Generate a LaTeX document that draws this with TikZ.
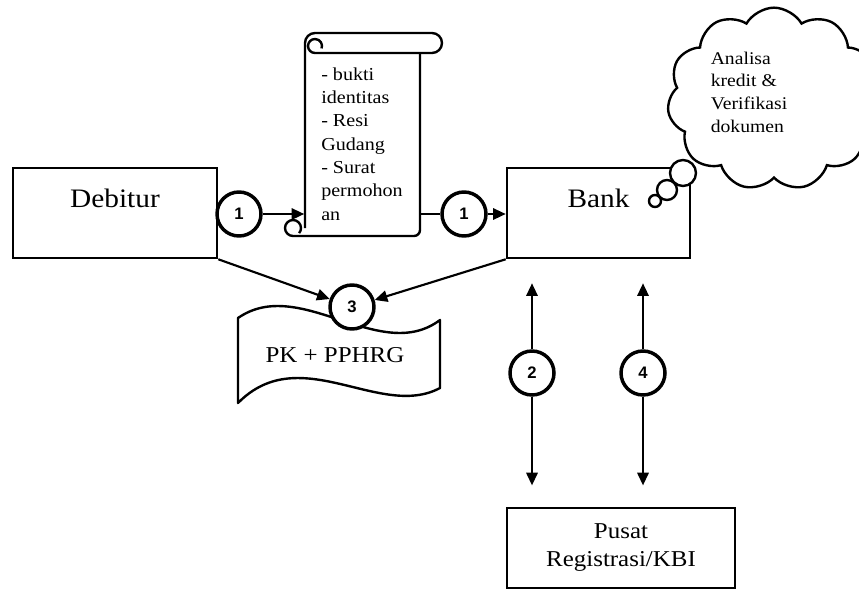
\documentclass[tikz,border=0pt]{standalone}
\usepackage{fontspec}
\setmainfont{Liberation Serif}[FakeStretch=1.1]
\setsansfont{Liberation Sans}
\usetikzlibrary{arrows.meta, positioning, shapes.symbols}
\tikzset{box/.style={rectangle,draw,line width=1.9pt,fill=white,inner sep=0pt},num/.style={circle,draw,line width=2.6pt,fill=white,minimum size=33pt,inner sep=0pt,font=\sffamily\bfseries\fontsize{12.5}{14}\selectfont},line/.style={line width=1.6pt},arrow/.style={line width=1.6pt,-{Triangle[length=9.5pt,width=8.5pt]}},outline/.style={line width=1.8pt,line join=round}}

\begin{document}
\begin{tikzpicture}[x=0.75pt,y=-0.75pt]
\useasboundingbox (0,0) rectangle (859,600);
% main boxes
\node[box, minimum width=153pt, minimum height=67.5pt, text height=14pt, text depth=23pt, font=\fontsize{20}{24}\selectfont] (debitur) at (115,213) {Debitur};
\node[box, minimum width=137.25pt, minimum height=67.5pt, text height=14pt, text depth=23pt, font=\fontsize{20}{24}\selectfont] (bank) at (598.5,213) {Bank};
\node[box, minimum width=171pt, minimum height=60pt, align=center, font=\fontsize{17}{21}\selectfont] (pusat) at (621,548) {Pusat\\Registrasi/KBI};
% scroll with documents
\node[inner sep=0pt, minimum width=86.25pt, minimum height=137pt, align=left, font=\fontsize{13.7}{17.5}\selectfont] (scroll) at (362,144) {- bukti\\identitas\\- Resi\\Gudang\\- Surat\\permohon\\an};
\draw[outline] (305,228) -- (305,43) arc[start angle=180, end angle=270, radius=10] -- (432,33) arc[start angle=270, end angle=450, radius=10] -- (315,53) arc[start angle=90, end angle=380, radius=7];
\draw[outline] (420,53) -- (420,230) arc[start angle=0, end angle=90, radius=6] -- (293,236) arc[start angle=90, end angle=400, radius=8];
% PK + PPHRG document
\draw[outline] (238,318) .. controls (300,275) and (380,365) .. (440,320) -- (440,388) .. controls (380,420) and (300,340) .. (238,403) -- cycle;
\node[font=\fontsize{17}{21}\selectfont] (pk) at (335,355) {PK + PPHRG};
% thought cloud
\node[cloud, draw, line width=1.8pt, fill=white, cloud puffs=11, cloud puff arc=120, minimum width=160pt, minimum height=137pt] (thought) at (774,99) {};
\node[align=left, font=\fontsize{13.4}{17}\selectfont] (analisa) at (749,92) {Analisa\\kredit \&\\Verifikasi\\dokumen};
\draw[outline, fill=white] (683,173) circle[radius=13];
\draw[outline, fill=white] (667,190) circle[radius=10];
\draw[outline, fill=white] (655,201) circle[radius=6];
% numbered steps
\node[num] (c1a) at (239,214) {1};
\node[num] (c1b) at (464,214) {1};
\node[num] (c3) at (352,307) {3};
\node[num] (c2) at (532,373) {2};
\node[num] (c4) at (643,373) {4};
\draw[arrow] (c1a) -- (c1a -| scroll.west);
\draw[line] (scroll.east |- c1b) -- (c1b);
\draw[arrow] (c1b) -- (c1b -| bank.west);
\draw[arrow] (debitur.south east) -- (c3);
\draw[arrow] (bank.south west) -- (c3);
\draw[arrow, shorten >=18pt] (c2) -- (c2 |- bank.south);
\draw[arrow, shorten >=16pt] (c2) -- (c2 |- pusat.north);
\draw[arrow, shorten >=18pt] (c4) -- (c4 |- bank.south);
\draw[arrow, shorten >=16pt] (c4) -- (c4 |- pusat.north);
\end{tikzpicture}
\end{document}
